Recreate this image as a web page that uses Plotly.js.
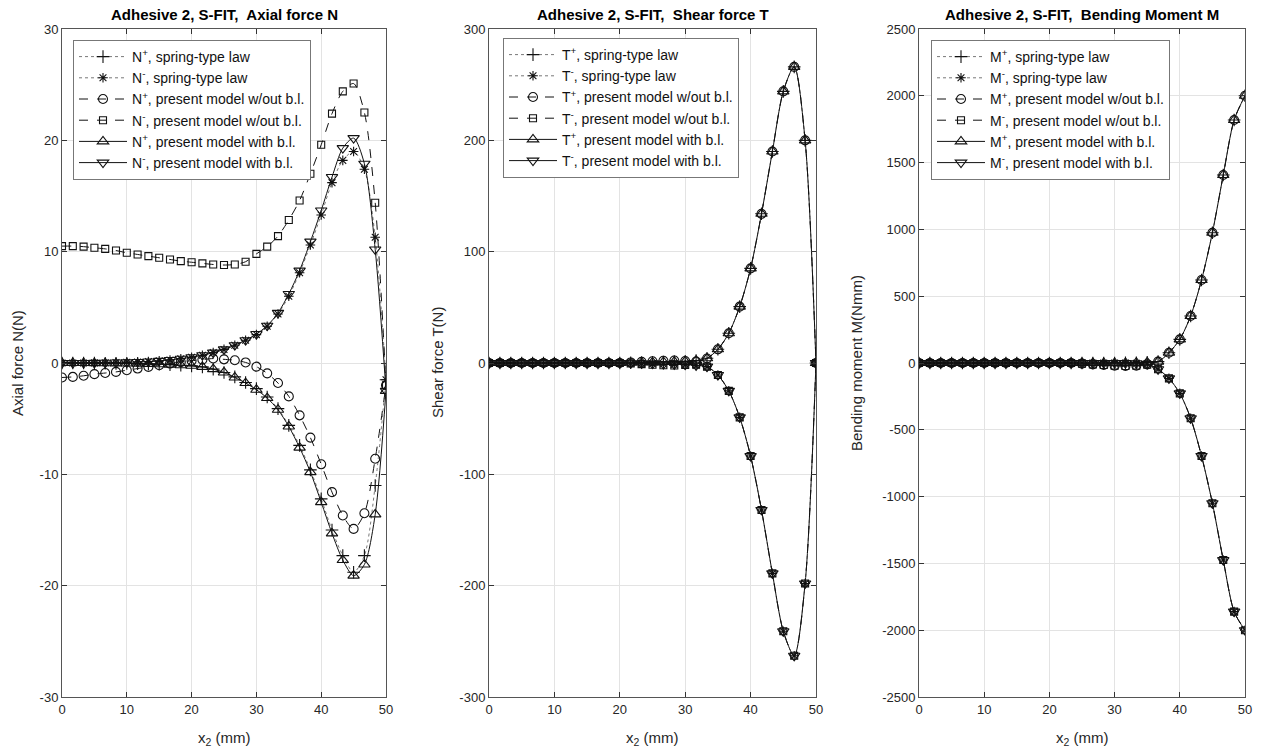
<!DOCTYPE html>
<html>
<head>
<meta charset="utf-8">
<script src="https://cdn.plot.ly/plotly-3.0.1.min.js"></script>
<style>html,body{margin:0;padding:0;background:#fff;}#chart{width:1261px;height:755px;}</style>
</head>
<body>
<div id="chart"></div>
<script>
// x2 positions (mm), 31 points from 0 to 50
const x2 = [0,1.667,3.333,5,6.667,8.333,10,11.667,13.333,15,16.667,18.333,20,21.667,23.333,25,26.667,28.333,30,31.667,33.333,35,36.667,38.333,40,41.667,43.333,45,46.667,48.333,50];

// Panel 1: Axial force N (N)
const Np_spring = [0,0,0,-0.01,-0.02,-0.03,-0.04,-0.06,-0.08,-0.11,-0.15,-0.2,-0.26,-0.35,-0.55,-0.85,-1.25,-1.75,-2.3,-3.05,-4.1,-5.6,-7.4,-9.6,-12.2,-15.0,-17.3,-18.8,-17.3,-11.0,-1.5];
const Nm_spring = [0,0,0,0.01,0.02,0.04,0.06,0.09,0.13,0.19,0.27,0.38,0.52,0.7,0.93,1.22,1.6,2.05,2.55,3.3,4.4,6.0,8.1,10.6,13.3,16.2,18.2,19.0,17.4,11.3,-1.5];
const Np_wo = [-1.3,-1.25,-1.15,-1.0,-0.9,-0.8,-0.65,-0.5,-0.35,-0.2,-0.05,0.08,0.2,0.3,0.4,0.33,0.25,0.05,-0.33,-0.93,-1.8,-3.0,-4.7,-6.7,-9.1,-11.6,-13.7,-14.9,-13.5,-8.6,-2.0];
const Nm_wo = [10.5,10.5,10.45,10.35,10.25,10.1,9.9,9.75,9.6,9.45,9.3,9.15,9.05,8.95,8.85,8.8,8.85,9.1,9.8,10.45,11.4,12.85,14.6,17.0,19.6,22.4,24.4,25.1,22.5,14.4,-2.0];
const Np_bl = [0,0,0,-0.01,-0.02,-0.03,-0.04,-0.06,-0.08,-0.11,-0.15,-0.2,-0.25,-0.35,-0.55,-0.85,-1.3,-1.8,-2.4,-3.15,-4.2,-5.7,-7.6,-9.8,-12.5,-15.3,-17.7,-19.1,-18.1,-13.6,-2.5];
const Nm_bl = [0,0,0,0.01,0.02,0.04,0.06,0.09,0.13,0.19,0.27,0.38,0.52,0.7,0.93,1.22,1.6,2.05,2.6,3.35,4.5,6.2,8.3,10.9,13.7,16.7,19.3,20.2,17.9,10.2,-2.5];

// Panel 2: Shear force T (N)
const Tp_spring = [0,0,0,0,0,0,0,0,0,0,0,0,0,0.2,0.4,0.6,0.9,1.2,1.5,2.2,4.2,12.3,26.7,50.6,85,134,190,244,266,200,0];
const Tm_spring = [0,0,0,0,0,0,0,0,0,0,0,0,0,-0.2,-0.4,-0.6,-0.9,-1.2,-1.5,-2.2,-3.3,-10.8,-25,-48.8,-83.6,-132,-189,-241,-263,-198,0];
const Tp_wo = [0,0,0,0,0,0,0,0,0,0,0,0,0,0.5,1.0,1.6,2.0,2.2,1.8,1.2,4.0,12.3,26.7,50.6,85,134,190,244,266,200,0];
const Tm_wo = [0,0,0,0,0,0,0,0,0,0,0,0,0,-0.5,-1.0,-1.6,-2.0,-2.2,-1.8,-1.2,-3.3,-10.8,-25,-48.8,-83.6,-132,-189,-241,-263,-198,0];
const Tp_bl = [0,0,0,0,0,0,0,0,0,0,0,0,0,0.2,0.4,0.6,0.9,1.2,1.5,2.2,4.2,12.3,26.7,50.6,85,134,190,244,266,200,0];
const Tm_bl = [0,0,0,0,0,0,0,0,0,0,0,0,0,-0.2,-0.4,-0.6,-0.9,-1.2,-1.5,-2.2,-3.3,-10.8,-25,-48.8,-83.6,-132,-189,-241,-263,-198,0];

// Panel 3: Bending moment M (Nmm)
const Mp_spring = [0,0,0,0,0,0,0,0,0,0,0,0,0,0,0,0,0,0,0,1,2,5,10,77,177,352,621,975,1407,1819,2000];
const Mm_spring = [0,0,0,0,0,0,0,0,0,0,0,0,0,0,0,0,0,0,0,-1,-2,-8,-47,-115,-227,-414,-696,-1050,-1475,-1861,-2000];
const Mp_wo = [0,0,0,0,0,0,0,0,0,0,0,0,0,0,0,-5,-10,-15,-20,-22,-20,-10,10,77,177,352,621,975,1407,1819,2000];
const Mm_wo = [0,0,0,0,0,0,0,0,0,0,0,0,0,0,0,-5,-10,-15,-20,-22,-20,-12,-47,-115,-227,-414,-696,-1050,-1475,-1861,-2000];
const Mp_bl = [0,0,0,0,0,0,0,0,0,0,0,0,0,0,0,0,0,0,0,1,2,5,10,77,177,352,621,975,1407,1819,2000];
const Mm_bl = [0,0,0,0,0,0,0,0,0,0,0,0,0,0,0,0,0,0,0,-1,-2,-8,-47,-115,-227,-414,-696,-1050,-1475,-1861,-2000];

// Tick values and labels (hyphen minus as in the reference)
const xTicks = [0, 10, 20, 30, 40, 50];
const xTickText = ["0", "10", "20", "30", "40", "50"];
const nTicks = [-30, -20, -10, 0, 10, 20, 30];
const nTickText = ["-30", "-20", "-10", "0", "10", "20", "30"];
const tTicks = [-300, -200, -100, 0, 100, 200, 300];
const tTickText = ["-300", "-200", "-100", "0", "100", "200", "300"];
const mTicks = [-2500, -2000, -1500, -1000, -500, 0, 500, 1000, 1500, 2000, 2500];
const mTickText = ["-2500", "-2000", "-1500", "-1000", "-500", "0", "500", "1000", "1500", "2000", "2500"];

const legendSuffix = [", spring-type law", ", spring-type law", ", present model w/out b.l.", ", present model w/out b.l.", ", present model with b.l.", ", present model with b.l."];
const signs = ["+", "-", "+", "-", "+", "-"];

const FONT = "Liberation Sans, Arial, Helvetica, sans-serif";
const BLACK = "#111";
const styles = [
  {dash: "dot", width: 0.8, color: "#555", sym: "cross-thin-open", size: 9},
  {dash: "dot", width: 0.8, color: "#555", sym: "asterisk-open", size: 8},
  {dash: "dash", width: 1, color: BLACK, sym: "circle-open", size: 9},
  {dash: "dash", width: 1, color: BLACK, sym: "square-open", size: 7},
  {dash: "solid", width: 1, color: BLACK, sym: "triangle-up-open", size: 10},
  {dash: "solid", width: 1, color: BLACK, sym: "triangle-down-open", size: 10}
];

function panelTraces(letter, series, xa, ya, leg) {
  return series.map((ys, i) => ({
    type: "scatter", mode: "lines+markers",
    x: x2, y: ys, xaxis: xa, yaxis: ya, legend: leg,
    name: letter + "<sup>" + signs[i] + "</sup>" + legendSuffix[i],
    line: {dash: styles[i].dash, width: styles[i].width, color: styles[i].color, shape: "spline", smoothing: 0.8},
    marker: {symbol: styles[i].sym, size: styles[i].size, color: BLACK, line: {width: 1.1, color: BLACK}},
    hoverinfo: "x+y"
  }));
}

const data = [].concat(
  panelTraces("N", [Np_spring, Nm_spring, Np_wo, Nm_wo, Np_bl, Nm_bl], "x", "y", "legend"),
  panelTraces("T", [Tp_spring, Tm_spring, Tp_wo, Tm_wo, Tp_bl, Tm_bl], "x2", "y2", "legend2"),
  panelTraces("M", [Mp_spring, Mm_spring, Mp_wo, Mm_wo, Mp_bl, Mm_bl], "x3", "y3", "legend3")
);

const W = 1261, H = 755;
const yDom = [1 - 697 / H, 1 - 29 / H];
const xDoms = [[62 / W, 386 / W], [489 / W, 816 / W], [919 / W, 1245 / W]];

const common = {ticks: "inside", ticklen: 5, tickcolor: "#333", showline: true, linecolor: "#555", linewidth: 1,
  mirror: "allticks", showgrid: true, gridcolor: "#e3e3e3", gridwidth: 1, zeroline: false,
  tickfont: {family: FONT, size: 13, color: "#262626"}, automargin: false, tickmode: "array"};

function xAxis(dom, anchor) {
  return Object.assign({domain: dom, anchor: anchor, range: [0, 50], tickvals: xTicks, ticktext: xTickText}, common);
}
function yAxis(rng, tv, tt, anchor) {
  return Object.assign({domain: yDom, anchor: anchor, range: rng, tickvals: tv, ticktext: tt}, common);
}
function legendCfg(xPx, yPx) {
  return {x: xPx / W, y: 1 - yPx / H, xanchor: "left", yanchor: "top",
    bgcolor: "#ffffff", bordercolor: "#777", borderwidth: 1,
    font: {family: FONT, size: 14, color: "#111"}, itemwidth: 48, tracegroupgap: 0};
}

const titles = ["Adhesive 2, S-FIT,\u00a0 Axial force N", "Adhesive 2, S-FIT,\u00a0 Shear force T", "Adhesive 2, S-FIT,\u00a0 Bending Moment M"];
const yTitles = ["Axial force N(N)", "Shear force T(N)", "Bending moment M(Nmm)"];
const yTitleX = [18, 438, 857];

const annotations = [];
for (let i = 0; i < 3; i++) {
  const cx = (xDoms[i][0] + xDoms[i][1]) / 2;
  annotations.push({text: "<b>" + titles[i] + "</b>", x: cx, y: 1 - 14 / H, xref: "paper", yref: "paper",
    xanchor: "center", yanchor: "middle", showarrow: false, font: {family: FONT, size: 15, color: "#000"}});
  annotations.push({text: "x<sub>2</sub> (mm)", x: cx, y: 1 - 738 / H, xref: "paper", yref: "paper",
    xanchor: "center", yanchor: "middle", showarrow: false, font: {family: FONT, size: 15, color: "#262626"}});
  annotations.push({text: yTitles[i], x: yTitleX[i] / W, y: 1 - 363 / H, xref: "paper", yref: "paper",
    xanchor: "center", yanchor: "middle", textangle: -90, showarrow: false, font: {family: FONT, size: 15, color: "#262626"}});
}

const layout = {
  width: W, height: H, margin: {l: 0, r: 0, t: 0, b: 0},
  paper_bgcolor: "#fff", plot_bgcolor: "#fff", showlegend: true,
  xaxis: xAxis(xDoms[0], "y"), yaxis: yAxis([-30, 30], nTicks, nTickText, "x"),
  xaxis2: xAxis(xDoms[1], "y2"), yaxis2: yAxis([-300, 300], tTicks, tTickText, "x2"),
  xaxis3: xAxis(xDoms[2], "y3"), yaxis3: yAxis([-2500, 2500], mTicks, mTickText, "x3"),
  legend: legendCfg(73, 40), legend2: legendCfg(503, 38), legend3: legendCfg(931, 40),
  annotations: annotations
};

Plotly.newPlot("chart", data, layout, {displayModeBar: false, staticPlot: true});
</script>
</body>
</html>
